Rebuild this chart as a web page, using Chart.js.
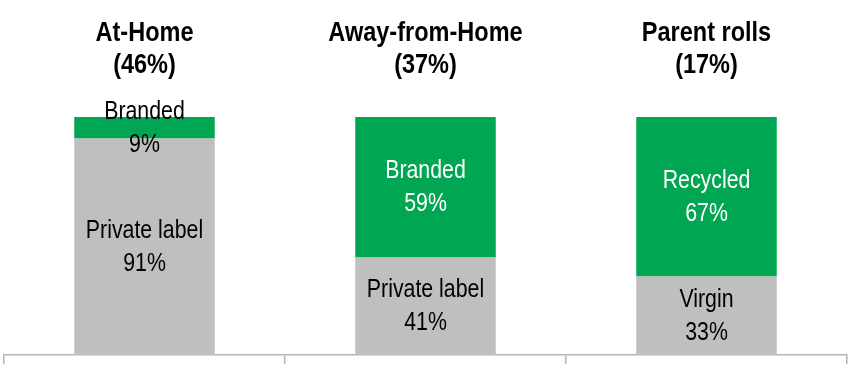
<!DOCTYPE html>
<html>
<head>
<meta charset="utf-8">
<script src="https://cdn.jsdelivr.net/npm/chart.js@4/dist/chart.umd.min.js"></script>
<style>
  body { margin: 0; background: #fff; }
</style>
</head>
<body>
<canvas id="shareChart" width="856" height="368"></canvas>
<script>
// segment data (percent of each market)
const categories = ['At-Home', 'Away-from-Home', 'Parent rolls'];
const marketShares = ['(46%)', '(37%)', '(17%)'];
const lowerNames = ['Private label', 'Private label', 'Virgin'];
const lowerValues = [91, 41, 33];
const upperNames = ['Branded', 'Branded', 'Recycled'];
const upperValues = [9, 59, 67];

const GREEN = '#00a651';
const GREY = '#bfbfbf';

// draw condensed text (the original lettering is narrow)
function narrowText(ctx, text, x, y, font, color, squeeze) {
    ctx.save();
    ctx.font = font;
    ctx.fillStyle = color;
    ctx.textAlign = 'center';
    ctx.textBaseline = 'middle';
    ctx.translate(x, y);
    ctx.scale(squeeze, 1);
    ctx.fillText(text, 0, 0);
    ctx.restore();
}

const labelsPlugin = {
    id: 'segmentLabels',
    afterDatasetsDraw(chart) {
        const ctx = chart.ctx;
        const font = '26px "Liberation Sans", Arial, sans-serif';
        chart.data.datasets.forEach(function (ds, di) {
            const meta = chart.getDatasetMeta(di);
            meta.data.forEach(function (bar, i) {
                const mid = (bar.y + bar.base) / 2;
                let color = '#000';
                if (di === 1 && ds.data[i] > 20) color = '#fff';
                narrowText(ctx, ds.names[i], bar.x, mid - 16, font, color, 0.82);
                narrowText(ctx, ds.data[i] + '%', bar.x, mid + 17, font, color, 0.82);
            });
        });
        // category titles above the bars
        const xScale = chart.scales.x;
        const boldFont = 'bold 28px "Liberation Sans", Arial, sans-serif';
        categories.forEach(function (c, i) {
            const x = xScale.getPixelForValue(i);
            narrowText(ctx, c, x, 33, boldFont, '#000', 0.84);
            narrowText(ctx, marketShares[i], x, 65, boldFont, '#000', 0.84);
        });
    }
};

new Chart(document.getElementById('shareChart'), {
    type: 'bar',
    data: {
        labels: categories,
        datasets: [{
            label: 'lower',
            names: lowerNames,
            data: lowerValues,
            backgroundColor: GREY,
            barPercentage: 0.5,
            categoryPercentage: 1,
        }, {
            label: 'upper',
            names: upperNames,
            data: upperValues,
            backgroundColor: GREEN,
            barPercentage: 0.5,
            categoryPercentage: 1,
        }]
    },
    options: {
        responsive: false,
        animation: false,
        layout: { padding: { top: 117, left: 4, right: 9, bottom: 4 } },
        plugins: {
            legend: { display: false },
            tooltip: { enabled: false },
        },
        scales: {
            x: {
                stacked: true,
                grid: {
                    drawOnChartArea: false,
                    drawTicks: true,
                    tickLength: 9,
                    color: '#b4b4b4',
                    lineWidth: 1.5,
                },
                border: { color: '#b4b4b4', width: 1.5 },
                ticks: { display: false },
            },
            y: {
                stacked: true,
                display: false,
                min: 0,
                max: 100,
            }
        }
    },
    plugins: [labelsPlugin]
});
</script>
</body>
</html>
